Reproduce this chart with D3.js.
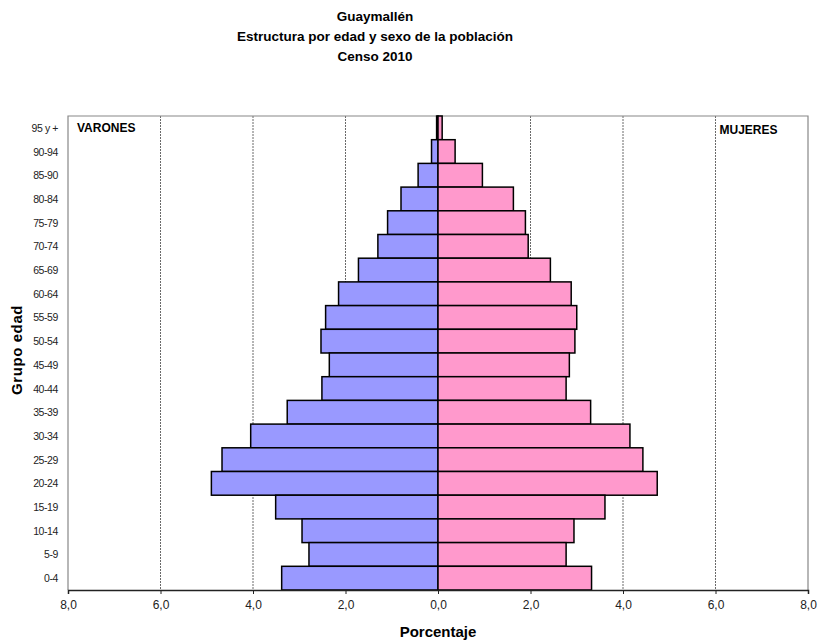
<!DOCTYPE html>
<html>
<head>
<meta charset="utf-8">
<script src="https://cdn.jsdelivr.net/npm/d3@7"></script>
<style>
  body { margin: 0; background: #fff; }
  text { font-family: "Liberation Sans", Arial, sans-serif; }
</style>
</head>
<body>
<div id="chart"></div>
<script>
const ageGroups = ['95 y +', '90-94', '85-90', '80-84', '75-79', '70-74', '65-69', '60-64', '55-59',
  '50-54', '45-49', '40-44', '35-39', '30-34', '25-29', '20-24', '15-19', '10-14', '5-9', '0-4'];
// "95 y +" row on top, "0-4" at the bottom
const varones = [0.03, 0.14, 0.43, 0.80, 1.09, 1.30, 1.72, 2.15, 2.43,
  2.53, 2.35, 2.51, 3.26, 4.05, 4.67, 4.90, 3.51, 2.94, 2.79, 3.38];
const mujeres = [0.09, 0.37, 0.96, 1.63, 1.89, 1.95, 2.43, 2.88, 3.00,
  2.96, 2.84, 2.77, 3.30, 4.15, 4.43, 4.74, 3.61, 2.94, 2.77, 3.32];
const xTicks = [-8, -6, -4, -2, 0, 2, 4, 6, 8];
const titleLines = ['Guaymallén', 'Estructura por edad y sexo de la población', 'Censo 2010'];

const W = 822, H = 641;
const margin = { top: 116, right: 14, bottom: 51, left: 68 };
const width = W - margin.left - margin.right;
const height = H - margin.top - margin.bottom;

const svg = d3.select('#chart').append('svg')
    .attr('width', W)
    .attr('height', H);

const x = d3.scaleLinear().domain([-8, 8]).range([0, width]);
const y = d3.scaleBand().domain(ageGroups).range([0, height]).paddingInner(0).paddingOuter(0);

const fmt = v => d3.format('.1f')(Math.abs(v)).replace('.', ',');

// title
svg.append('g').selectAll('text')
    .data(titleLines)
  .enter().append('text')
    .attr('x', 375)
    .attr('y', (d, i) => 21 + i * 20)
    .attr('text-anchor', 'middle')
    .style('font-size', '13.5px')
    .style('font-weight', 'bold')
    .text(d => d);

const g = svg.append('g')
    .attr('transform', `translate(${margin.left}, ${margin.top})`);

// gridlines
g.selectAll('.grid')
    .data(xTicks.filter(d => d !== -8 && d !== 8 && d !== 0))
  .enter().append('line')
    .attr('class', 'grid')
    .attr('x1', d => x(d)).attr('x2', d => x(d))
    .attr('y1', 0).attr('y2', height)
    .attr('stroke', '#444')
    .attr('stroke-width', 0.8)
    .attr('stroke-dasharray', '2,1');

// plot frame (top, left, right)
g.append('path')
    .attr('d', `M0,${height}V0H${width}V${height}`)
    .attr('fill', 'none')
    .attr('stroke', '#888')
    .attr('stroke-width', 1.2);

// bars
const rows = ageGroups.map((a, i) => ({ age: a, m: varones[i], f: mujeres[i] }));

g.selectAll('.bar-m')
    .data(rows)
  .enter().append('rect')
    .attr('class', 'bar-m')
    .attr('x', d => x(-d.m))
    .attr('y', d => y(d.age))
    .attr('width', d => x(0) - x(-d.m))
    .attr('height', y.bandwidth())
    .attr('fill', '#9999FF')
    .attr('stroke', '#000')
    .attr('stroke-width', 1.5);

g.selectAll('.bar-f')
    .data(rows)
  .enter().append('rect')
    .attr('class', 'bar-f')
    .attr('x', x(0))
    .attr('y', d => y(d.age))
    .attr('width', d => x(d.f) - x(0))
    .attr('height', y.bandwidth())
    .attr('fill', '#FF99CC')
    .attr('stroke', '#000')
    .attr('stroke-width', 1.5);

// y axis labels
g.selectAll('.ylab')
    .data(ageGroups)
  .enter().append('text')
    .attr('class', 'ylab')
    .attr('x', -10)
    .attr('y', d => y(d) + y.bandwidth() / 2 + 4)
    .attr('text-anchor', 'end')
    .attr('fill', '#222')
    .style('font-size', '10.5px')
    .style('letter-spacing', '-0.4px')
    .text(d => d);

// x axis
const xAxis = d3.axisBottom(x)
    .tickValues(xTicks)
    .tickSize(4)
    .tickPadding(6)
    .tickFormat(fmt);

const ax = g.append('g')
    .attr('transform', `translate(0, ${height})`)
    .call(xAxis);
ax.select('.domain').attr('stroke', '#222').attr('stroke-width', 1.5);
ax.selectAll('.tick line').attr('stroke', '#222');
ax.selectAll('.tick text')
    .attr('fill', '#222')
    .style('font-size', '12px')
    .style('font-family', '"Liberation Sans", Arial, sans-serif');

// axis titles
svg.append('text')
    .attr('x', margin.left + x(0))
    .attr('y', 637)
    .attr('text-anchor', 'middle')
    .style('font-size', '15px')
    .style('font-weight', 'bold')
    .text('Porcentaje');

svg.append('text')
    .attr('transform', 'translate(22, 350) rotate(-90)')
    .attr('text-anchor', 'middle')
    .style('font-size', '15px')
    .style('font-weight', 'bold')
    .style('letter-spacing', '0.6px')
    .text('Grupo edad');

// series labels
g.append('text')
    .attr('x', 9)
    .attr('y', 16)
    .style('font-size', '12px')
    .style('font-weight', 'bold')
    .text('VARONES');

g.append('text')
    .attr('x', x(6) + 4)
    .attr('y', 18)
    .style('font-size', '12px')
    .style('font-weight', 'bold')
    .text('MUJERES');
</script>
</body>
</html>
